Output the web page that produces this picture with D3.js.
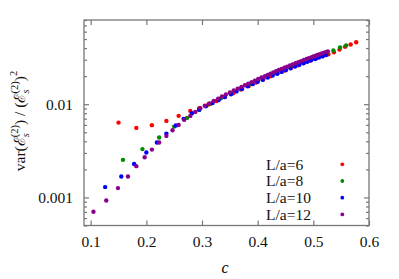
<!DOCTYPE html>
<html>
<head>
<meta charset="utf-8">
<script src="https://cdn.jsdelivr.net/npm/d3@7"></script>
<style>
  body { margin: 0; background: #fff; }
  svg { display: block; font-family: "Liberation Serif", "DejaVu Serif", serif; }
  .axis path { display: none; }
  .axis line { stroke: #777; stroke-width: 1.2; }
  .axis text { font-size: 15.5px; fill: #111; font-family: "Liberation Serif", serif; }
</style>
</head>
<body>
<svg width="399" height="279"></svg>
<script>
var seriesNames = ["L/a=6", "L/a=8", "L/a=10", "L/a=12"];
var seriesColors = ["#ff0000", "#008a00", "#0000ff", "#8b008b"];

var cL6 = [0.150, 0.182, 0.210, 0.236, 0.258, 0.279, 0.295, 0.311, 0.326, 0.341, 0.356, 0.370, 0.384, 0.397, 0.410, 0.423, 0.436, 0.448, 0.460, 0.472, 0.483, 0.494, 0.505, 0.516, 0.527, 0.537, 0.547, 0.557, 0.567, 0.577];
var vL6 = [0.00635, 0.00557, 0.00596, 0.00662, 0.0075, 0.00848, 0.00906, 0.00989, 0.01081, 0.01191, 0.01312, 0.01434, 0.01570, 0.01706, 0.01842, 0.01991, 0.02143, 0.02291, 0.02443, 0.02606, 0.02767, 0.02927, 0.03090, 0.03262, 0.03437, 0.03606, 0.03851, 0.0413, 0.04375, 0.04618];

var cL8 = [0.158, 0.193, 0.223, 0.250, 0.273, 0.295, 0.315, 0.334, 0.352, 0.369, 0.385, 0.401, 0.416, 0.431, 0.445, 0.459, 0.473, 0.486, 0.499, 0.512, 0.524, 0.536, 0.548, 0.559];
var vL8 = [0.00253, 0.0033, 0.00439, 0.00575, 0.00713, 0.00869, 0.01008, 0.01159, 0.01315, 0.01476, 0.01637, 0.01811, 0.01982, 0.02168, 0.02350, 0.02543, 0.02745, 0.02941, 0.03148, 0.03357, 0.03556, 0.03767, 0.0406, 0.0427];

var cL10 = [0.126, 0.155, 0.178, 0.200, 0.219, 0.236, 0.253, 0.267, 0.282, 0.295, 0.307, 0.319, 0.330, 0.341, 0.352, 0.362, 0.372, 0.382, 0.391, 0.400, 0.409, 0.418, 0.427, 0.435, 0.443, 0.451, 0.459, 0.467, 0.475, 0.482, 0.489, 0.496, 0.503, 0.510, 0.517, 0.523];
var vL10 = [0.00129, 0.00168, 0.00228, 0.00303, 0.00388, 0.00484, 0.0059, 0.00696, 0.0080, 0.00874, 0.00948, 0.01030, 0.01108, 0.01191, 0.01279, 0.01371, 0.01459, 0.01554, 0.01641, 0.01738, 0.01832, 0.01932, 0.02032, 0.02123, 0.02220, 0.02323, 0.02429, 0.02537, 0.02649, 0.02751, 0.02851, 0.02958, 0.03059, 0.03166, 0.03269, 0.03365];

var cL12 = [0.105, 0.128, 0.149, 0.167, 0.182, 0.197, 0.210, 0.223, 0.236, 0.247, 0.258, 0.268, 0.279, 0.288, 0.297, 0.305, 0.313, 0.321, 0.329, 0.336, 0.343, 0.350, 0.357, 0.364, 0.371, 0.377, 0.383, 0.389, 0.395, 0.401, 0.407, 0.413, 0.418, 0.423, 0.428, 0.433, 0.438, 0.443, 0.448, 0.453, 0.458, 0.463, 0.468, 0.473, 0.478, 0.483, 0.488, 0.492, 0.497, 0.501, 0.506, 0.510, 0.514, 0.518, 0.522, 0.526];
var vL12 = [0.000701, 0.000927, 0.00126, 0.00168, 0.002165, 0.0027, 0.00326, 0.00388, 0.00457, 0.00526, 0.0060, 0.00679, 0.00749, 0.00827, 0.00904, 0.00961, 0.01021, 0.01084, 0.01148, 0.01208, 0.01271, 0.01334, 0.01400, 0.01466, 0.01535, 0.01596, 0.01660, 0.01726, 0.01791, 0.01861, 0.01931, 0.02000, 0.02065, 0.02128, 0.02188, 0.02254, 0.02323, 0.02388, 0.02460, 0.02529, 0.02600, 0.02673, 0.02748, 0.02825, 0.02897, 0.02979, 0.03055, 0.03119, 0.03199, 0.03266, 0.03350, 0.03416, 0.03483, 0.03556, 0.03622, 0.03690];

var xTicks = [0.1, 0.2, 0.3, 0.4, 0.5, 0.6];
var yMajor = [0.001, 0.01];
var yMinor = [0.0005, 0.0006, 0.0007, 0.0008, 0.0009, 0.002, 0.003, 0.004, 0.005, 0.006, 0.007, 0.008, 0.009, 0.02, 0.03, 0.04, 0.05, 0.06, 0.07, 0.08];

var svg = d3.select("svg");
var plotL = 84, plotR = 369, plotT = 20, plotB = 225.5;

var x = d3.scaleLinear().domain([0.088, 0.6]).range([plotL, plotR]);
var y = d3.scaleLog().domain([0.0005, 0.08]).range([plotB, plotT]);

// axes, ticks pointing inward like gnuplot
svg.append("g").attr("class", "axis").attr("transform", "translate(0," + plotB + ")")
    .call(d3.axisBottom(x).tickValues(xTicks).tickSize(-5).tickPadding(10).tickFormat(d3.format(".1f")));
svg.append("g").attr("class", "axis").attr("transform", "translate(0," + plotT + ")")
    .call(d3.axisTop(x).tickValues(xTicks).tickSize(-5).tickFormat(""));
svg.append("g").attr("class", "axis").attr("transform", "translate(" + plotL + ",0)")
    .call(d3.axisLeft(y).tickValues(yMajor).tickSize(-5).tickPadding(11).tickFormat(d3.format("")));
svg.append("g").attr("class", "axis").attr("transform", "translate(" + plotL + ",0)")
    .call(d3.axisLeft(y).tickValues(yMinor).tickSize(-3).tickFormat(""));
svg.append("g").attr("class", "axis").attr("transform", "translate(" + plotR + ",0)")
    .call(d3.axisRight(y).tickValues(yMajor).tickSize(-5).tickFormat(""));
svg.append("g").attr("class", "axis").attr("transform", "translate(" + plotR + ",0)")
    .call(d3.axisRight(y).tickValues(yMinor).tickSize(-3).tickFormat(""));

svg.append("rect")
    .attr("x", plotL).attr("y", plotT)
    .attr("width", plotR - plotL).attr("height", plotB - plotT)
    .attr("fill", "none").attr("stroke", "#777").attr("stroke-width", 1.3);

var series = [
    { c: cL6, v: vL6 },
    { c: cL8, v: vL8 },
    { c: cL10, v: vL10 },
    { c: cL12, v: vL12 }
];

series.forEach(function (s, i) {
    var pts = s.c.map(function (c, j) { return [c, s.v[j]]; });
    svg.append("g").selectAll("circle")
        .data(pts)
        .enter().append("circle")
        .attr("cx", function (d) { return x(d[0]); })
        .attr("cy", function (d) { return y(d[1]); })
        .attr("r", 2.2)
        .attr("fill", seriesColors[i]);
});

// legend
var legend = svg.append("g");
seriesNames.forEach(function (name, i) {
    var ly = 164.3 + i * 16.7;
    legend.append("text")
        .attr("x", 266).attr("y", ly + 5.4)
        .attr("font-size", "15.5px").attr("fill", "#111")
        .text(name);
    legend.append("circle")
        .attr("cx", 342.3).attr("cy", ly)
        .attr("r", 1.9).attr("fill", seriesColors[i]);
});

// axis titles
svg.append("text")
    .attr("x", 225).attr("y", 272.5)
    .attr("text-anchor", "middle")
    .attr("font-size", "16px").attr("font-style", "italic")
    .text("c");

var yl = svg.append("text")
    .attr("transform", "translate(25,121) rotate(-90)")
    .attr("text-anchor", "middle")
    .attr("font-size", "15.5px").attr("fill", "#111");
yl.append("tspan").text("var(\u2130");
yl.append("tspan").attr("font-size", "10.5px").attr("font-style", "italic").attr("dy", 4).text("s");
yl.append("tspan").attr("font-size", "10.5px").attr("dx", -4).attr("dy", -11).text("(2)");
yl.append("tspan").attr("dy", 7).text(") / (\u2130");
yl.append("tspan").attr("font-size", "10.5px").attr("font-style", "italic").attr("dy", 4).text("s");
yl.append("tspan").attr("font-size", "10.5px").attr("dx", -4).attr("dy", -11).text("(2)");
yl.append("tspan").attr("dy", 7).text(")");
yl.append("tspan").attr("font-size", "10.5px").attr("dy", -8).text("2");
</script>
</body>
</html>
